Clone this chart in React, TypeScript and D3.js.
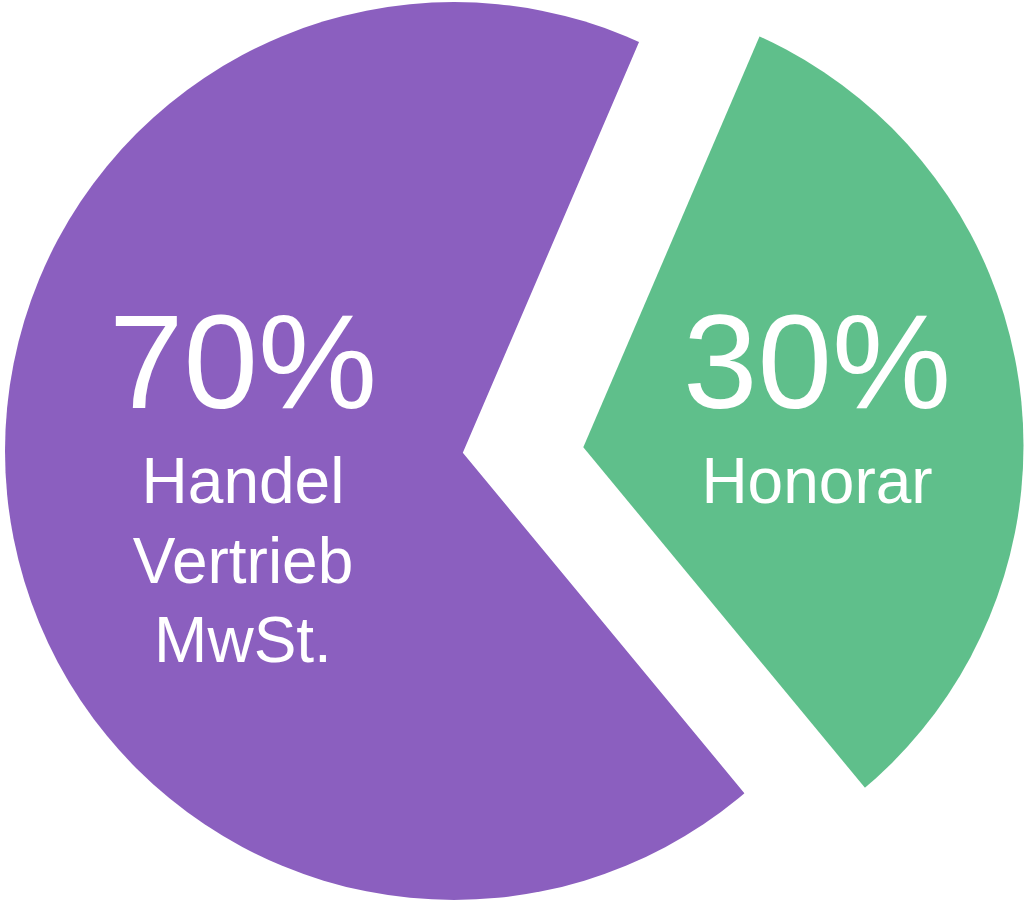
import * as d3 from "d3";
import { useEffect, useRef } from "react";

// slice sizes as drawn in the picture, and the texts printed on them
const segments = ["Handel Vertrieb MwSt.", "Honorar"];
const shares = [67.45, 32.55];
const percentLabels = ["70%", "30%"];
const nameLines = [["Handel", "Vertrieb", "MwSt."], ["Honorar"]];
const colors = ["#8b5fbf", "#5fbf8b"];

const width = 1024;
const height = 903;
const radius = 449;
const deg = Math.PI / 180;
const startAngle = 140.4 * deg;

// each exploded slice: centre of its rim, and the wedge tip sits a bit to the right of it
const rimCenters = [
  [454, 451],
  [574.5, 445.5],
];
const tipShift = [8.8, 1.8];
const labelX = [243, 817];

export default function App() {
  const svgRef = useRef(null);

  useEffect(() => {
    const svg = d3.select(svgRef.current).attr("width", width).attr("height", height);
    svg.selectAll("*").remove();

    const pie = d3
      .pie<number>()
      .sort(null)
      .value((d) => d)
      .startAngle(startAngle)
      .endAngle(startAngle + 2 * Math.PI);
    const slices = pie(shares);

    const wedge = d3.arc<any>().innerRadius(0).outerRadius(2000);
    const disc = d3.arc<any>().innerRadius(0).outerRadius(radius);

    // clip paths live in the disc's own (translated) coordinates
    const defs = svg.append("defs");
    slices.forEach((s, i) => {
      defs
        .append("clipPath")
        .attr("id", `wedge-${i}`)
        .append("path")
        .attr("transform", `translate(${tipShift[0]},${tipShift[1]})`)
        .attr("d", wedge({ startAngle: s.startAngle, endAngle: s.endAngle }));
    });

    const g = svg
      .selectAll("g.slice")
      .data(slices)
      .enter()
      .append("g")
      .attr("class", "slice")
      .attr("data-name", (_, i) => segments[i]);

    g.append("path")
      .attr("clip-path", (_, i) => `url(#wedge-${i})`)
      .attr("transform", (_, i) => `translate(${rimCenters[i][0]},${rimCenters[i][1]})`)
      .attr("d", disc({ startAngle: 0, endAngle: 2 * Math.PI }))
      .attr("fill", (_, i) => colors[i]);

    g.append("text")
      .attr("x", (_, i) => labelX[i])
      .attr("y", 408)
      .attr("text-anchor", "middle")
      .attr("fill", "#fff")
      .style("font-family", "'Liberation Sans', Arial, sans-serif")
      .style("font-size", "134px")
      .text((_, i) => percentLabels[i]);

    g.each(function (_, i) {
      d3.select(this)
        .selectAll("text.name")
        .data(nameLines[i])
        .enter()
        .append("text")
        .attr("class", "name")
        .attr("x", labelX[i])
        .attr("y", (_, j) => 503 + j * 79.5)
        .attr("text-anchor", "middle")
        .attr("fill", "#fff")
        .style("font-family", "'Liberation Sans', Arial, sans-serif")
        .style("font-size", "64px")
        .text((d) => d);
    });
  }, []);

  return (
    <div style={{ position: "absolute", left: 0, top: 0 }}>
      <svg ref={svgRef} style={{ display: "block" }} />
    </div>
  );
}
